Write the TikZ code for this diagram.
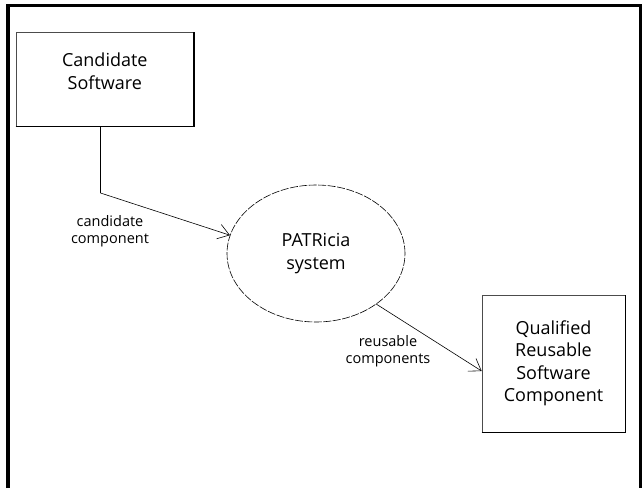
\documentclass[tikz,border=0pt]{standalone}
\usepackage{fontspec}
\setmainfont{Open Sans}
\usepackage{tikz}
\usetikzlibrary{shapes.geometric, arrows.meta, positioning, calc}

\tikzset{
  swbox/.style={draw=black!70, line width=0.6pt, rectangle, inner sep=0pt, align=center,
    font=\fontsize{18}{22.5}\selectfont},
  boxtext/.style={align=center, inner sep=0pt, font=\fontsize{18}{22.5}\selectfont},
  bubble/.style={draw, ellipse, line width=0.6pt, dash pattern=on 8pt off 1.5pt, inner sep=0pt,
    minimum width=178pt, minimum height=137pt, align=center, font=\fontsize{18}{23}\selectfont},
  flow/.style={line width=0.6pt, -{Straight Barb[length=11pt,width=15pt]}},
  flowlabel/.style={align=center, inner sep=0pt, font=\fontsize{14.5}{17.5}\selectfont}
}

\begin{document}
\begin{tikzpicture}[x=1pt, y=-1pt]
\useasboundingbox (0,0) rectangle (643,488);
% outer frame, open at the bottom
\draw[line width=3.2pt] (8,488) -- (8,5.5) -- (640.5,5.5) -- (640.5,488);

% external entities
\node[swbox, minimum width=178pt, minimum height=94pt] (cand) at (104.8,79) {};
\node[boxtext] (candtxt) at ([yshift=8pt]cand.center) {Candidate\\Software};
\node[swbox, minimum width=143pt, minimum height=137pt] (qrs) at (553.5,363.5)
  {Qualified\\Reusable\\Software\\Component};
\foreach \b in {cand, qrs}
  \draw[line width=1.5pt] (\b.south west) -- (\b.south east) -- (\b.north east);

% process
\node[bubble] (patricia) at (316,253.5) {PATRicia\\system};

% flows
\coordinate (bend) at (100.5,193);
\draw[flow] (bend |- cand.south) -- (bend) -- (patricia.168);
\draw[flow] (patricia.-40) -- (qrs.186);
\node[flowlabel] (inlabel) at (110,231) {candidate\\component};
\node[flowlabel] (outlabel) at (388,351) {reusable\\components};
\end{tikzpicture}
\end{document}
